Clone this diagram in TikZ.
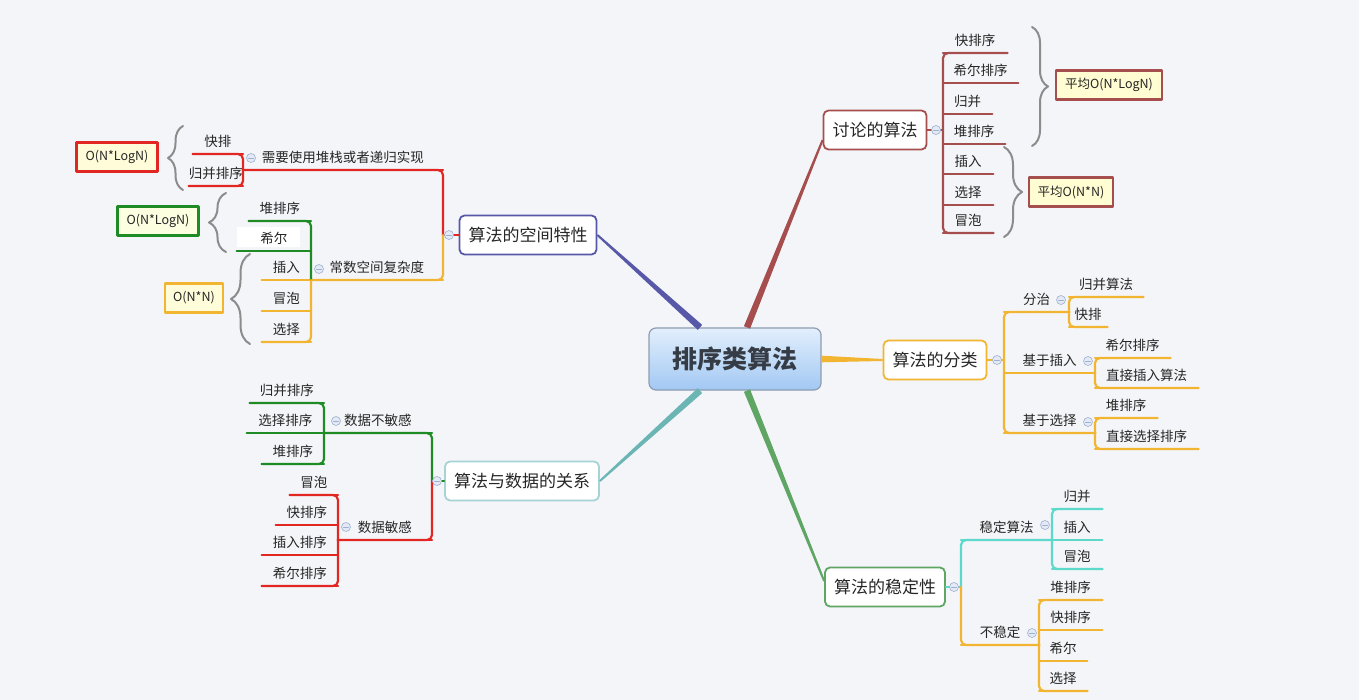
\documentclass[tikz,border=0pt]{standalone}
\usepackage{fontspec}
\setmainfont{Noto Sans CJK SC}
\usetikzlibrary{positioning,calc,decorations.pathreplacing}
\definecolor{nen}{HTML}{F4F5F9}
\definecolor{chu}{HTML}{262626}
\definecolor{chugoc}{HTML}{363C46}
\definecolor{cred}{HTML}{E22622}
\definecolor{cgreen}{HTML}{1F8B24}
\definecolor{corange}{HTML}{F2B531}
\definecolor{cbrown}{HTML}{A64D4D}
\definecolor{cteal}{HTML}{5DD9CB}
\definecolor{cpurple}{HTML}{5858A8}
\definecolor{cteal2}{HTML}{6BB5B5}
\definecolor{cgreen2}{HTML}{5FA563}
\definecolor{foldv}{HTML}{9DB0D0}
\definecolor{foldn}{HTML}{E4EAF5}
\definecolor{xam}{HTML}{8C8C8C}
\definecolor{goctren}{HTML}{E2EFFC}
\definecolor{gocduoi}{HTML}{A2C8F3}
\definecolor{gocvien}{HTML}{8E9DB2}
\begin{document}
\begin{tikzpicture}[x=1pt, y=-1pt, line join=round, line cap=round,
	leaf/.style={inner xsep=0pt, inner ysep=5pt, text height=9.5pt, text depth=2.5pt, text=chu, font=\fontsize{13.5}{13.5}\selectfont},
	topic/.style={draw, fill=white, rounded corners=5pt, line width=1.8pt, minimum height=39pt, inner xsep=9pt, text=chu, font=\fontsize{17}{17}\selectfont},
	ln/.style={line width=2.2pt},
	fold/.style={circle, draw=foldv, fill=foldn, line width=0.6pt, minimum size=9pt, inner sep=0pt,
		path picture={\draw[foldv, line width=0.8pt] ([xshift=-2.5pt]path picture bounding box.center) -- ([xshift=2.5pt]path picture bounding box.center);}},
	onbox/.style={draw, line width=2.5pt, minimum height=29pt, inner xsep=4pt, text=chu, font=\fontsize{12.5}{12.5}\selectfont},
	ngoac/.style={draw=xam, line width=2pt, decorate, decoration={brace, amplitude=#1}}
	]
	
	% Nen
	\useasboundingbox (0,0) rectangle (1359,700);
	\fill[nen] (0,0) rectangle (1359,700);
	
	% Nut goc va cac chu de
	\node[draw=gocvien, line width=1.2pt, rounded corners=7pt, top color=goctren, bottom color=gocduoi,
		minimum width=172pt, minimum height=62pt, text=chugoc, font=\fontsize{25}{25}\selectfont\bfseries] (root) at (735,359) {排序类算法};
	\node[topic, draw=cpurple] (kongjian) at (528,235) {算法的空间特性};
	\node[topic, draw=cbrown] (taolun) at (875,130) {讨论的算法};
	\node[topic, draw=corange] (fenlei) at (935,360) {算法的分类};
	\node[topic, draw=cteal2!60] (guanxi) at (522,481) {算法与数据的关系};
	\node[topic, draw=cgreen2] (wending) at (885,587) {算法的稳定性};
	
	% Nhanh chinh
	\coordinate (g1) at ([xshift=-35pt]root.north);
	\coordinate (g2) at ([xshift=12pt]root.north);
	\coordinate (g3) at (root.east);
	\coordinate (g4) at ([xshift=-35pt]root.south);
	\coordinate (g5) at ([xshift=12pt]root.south);
	\coordinate (d1) at (kongjian.east);
	\coordinate (d2) at ([yshift=-10pt]taolun.west);
	\coordinate (d3) at (fenlei.west);
	\coordinate (d4) at (guanxi.east);
	\coordinate (d5) at ([yshift=6pt]wending.west);
	\foreach \a/\b/\c in {g1/d1/cpurple, g2/d2/cbrown, g3/d3/corange, g4/d4/cteal2, g5/d5/cgreen2}{
		\fill[\c] ($(\a)!3.3pt!90:(\b)$) -- ($(\b)!1pt!-90:(\a)$) -- ($(\b)!1pt!90:(\a)$) -- ($(\a)!3.3pt!-90:(\b)$) -- cycle;
	}
	
	% Nen trang sau chu
	\fill[white] (237,227) rectangle (300,247);
	
	% La ben trai
	\foreach \n/\t/\xa/\xb/\y/\c in {
		xuyao/需要使用堆栈或者递归实现/243/443/170/cred, kp1/快排/193/243/154/cred, gb1/归并排序/195/243/186/cred,
		changshu/常数空间复杂度/311/443/280/corange, dui1/堆排序/249/311/221/cgreen, xe1/希尔/237/311/251/cgreen,
		cr1/插入/262/311/280/corange, mp1/冒泡/262/311/311/corange, xz1/选择/262/311/342/corange,
		bumingan/数据不敏感/324/432/433/cgreen, mingan/数据敏感/338/432/540/cred,
		gb2/归并排序/250/324/403/cgreen, xz2/选择排序/247/324/433/cgreen, dpx2/堆排序/262/324/464/cgreen,
		mp2/冒泡/290/338/495/cred, kpx2/快排序/276/338/525/cred, cr2/插入排序/262/338/555/cred, xe2/希尔排序/262/338/586/cred}{
		\node[leaf, minimum width={\xb-\xa}, anchor=south east] (\n) at (\xb,\y) {\t};
		\draw[ln, \c] (\n.south west) -- (\n.south east);
	}
	
	% La ben phai
	\foreach \n/\t/\xa/\xb/\y/\c in {
		kpx3/快排序/943/1007/53/cbrown, xe3/希尔排序/943/1018/83/cbrown, gb3/归并/943/992/114/cbrown, dpx3/堆排序/943/1005/144/cbrown,
		cr3/插入/943/993/174/cbrown, xz3/选择/943/993/205/cbrown, mp3/冒泡/943/993/233/cbrown,
		fenzhi/分治/1004/1069/312/corange, jcharu/基于插入/1004/1095/373/corange, jxuanze/基于选择/1004/1095/433/corange,
		gbsf/归并算法/1069/1143/297/corange, kp4/快排/1069/1107/327/corange,
		xe4/希尔排序/1095/1170/358/corange, zjcr/直接插入算法/1095/1198/388/corange,
		dpx4/堆排序/1095/1157/418/corange, zjxz/直接选择排序/1095/1198/449/corange,
		wdsf/稳定算法/961/1052/540/cteal, buwd/不稳定/961/1039/645/corange,
		gb5/归并/1052/1102/509/cteal, cr5/插入/1052/1102/540/cteal, mp5/冒泡/1052/1102/569/cteal,
		dpx5/堆排序/1039/1102/600/corange, kpx5/快排序/1039/1102/630/corange, xe5/希尔/1039/1087/661/corange, xz5/选择/1039/1087/691/corange}{
		\node[leaf, minimum width={\xb-\xa}, anchor=south west] (\n) at (\xa,\y) {\t};
		\draw[ln, \c] (\n.south west) -- (\n.south east);
	}
	
	% Truc doc
	\begin{scope}[ln, rounded corners=5pt]
		\draw[cred] (kongjian.west) -- (kongjian.west -| xuyao.south east);
		\draw[cred] (xuyao.south west) -- (xuyao.south east) -- (kongjian.west -| xuyao.south east);
		\draw[corange] (kongjian.west -| changshu.south east) -- (changshu.south east) -- (changshu.south west);
		\draw[cred] (kp1.south west) -- (kp1.south east) -- (gb1.south east) -- (gb1.south west);
		\draw[cgreen] (dui1.south west) -- (dui1.south east) -- (cr1.south east);
		\draw[corange] (cr1.south east) -- (xz1.south east) -- (xz1.south west);
		
		\draw[cgreen] (guanxi.west) -- (guanxi.west -| bumingan.south east);
		\draw[cgreen] (bumingan.south west) -- (bumingan.south east) -- (guanxi.west -| bumingan.south east);
		\draw[cred] (guanxi.west -| mingan.south east) -- (mingan.south east) -- (mingan.south west);
		\draw[cgreen] (gb2.south west) -- (gb2.south east) -- (dpx2.south east) -- (dpx2.south west);
		\draw[cred] (mp2.south west) -- (mp2.south east) -- (xe2.south east) -- (xe2.south west);
		
		\draw[cbrown] (taolun.east) -- (taolun.east -| kpx3.south west);
		\draw[cbrown] (kpx3.south east) -- (kpx3.south west) -- (mp3.south west) -- (mp3.south east);
		
		\draw[corange] (fenlei.east) -- (fenlei.east -| fenzhi.south west);
		\draw[corange] (fenzhi.south east) -- (fenzhi.south west) -- (jxuanze.south west) -- (jxuanze.south east);
		\draw[corange] (gbsf.south east) -- (gbsf.south west) -- (kp4.south west) -- (kp4.south east);
		\draw[corange] (xe4.south east) -- (xe4.south west) -- (zjcr.south west) -- (zjcr.south east);
		\draw[corange] (dpx4.south east) -- (dpx4.south west) -- (zjxz.south west) -- (zjxz.south east);
		
		\draw[cteal] (wending.east) -- (wending.east -| wdsf.south west);
		\draw[cteal] (wdsf.south east) -- (wdsf.south west) -- (wending.east -| wdsf.south west);
		\draw[corange] (wending.east -| buwd.south west) -- (buwd.south west) -- (buwd.south east);
		\draw[cteal] (gb5.south east) -- (gb5.south west) -- (mp5.south west) -- (mp5.south east);
		\draw[corange] (dpx5.south east) -- (dpx5.south west) -- (xz5.south west) -- (xz5.south east);
	\end{scope}
	
	% Nut thu gon
	\foreach \n/\x/\y in {fo1/449/235, fo2/251/158, fo3/319/269, fo4/437/481, fo5/336/421, fo6/346/527,
		fo7/936/130, fo8/997/360, fo9/1061/300, fo10/1088/361, fo11/1088/422, fo12/954/587, fo13/1045/525, fo14/1032/633}{
		\node[fold] (\n) at (\x,\y) {};
	}
	
	% Ngoac va do phuc tap
	\draw[ngoac=15pt] (183,190) -- (183,126);
	\draw[ngoac=17pt] (226,252) -- (226,193);
	\draw[ngoac=19pt] (250,344) -- (250,254);
	\draw[ngoac=16pt] (1032,27) -- (1032,146);
	\draw[ngoac=18pt] (1004,147) -- (1004,237);
	
	\node[onbox, draw=cred, fill=yellow!15, minimum width=81pt] (on1) at (117,157) {O(N*LogN)};
	\node[onbox, draw=cgreen, fill=green!10!yellow!12, minimum width=81pt] (on2) at (158,221) {O(N*LogN)};
	\node[onbox, draw=corange, fill=yellow!15, minimum width=58pt] (on3) at (194,298) {O(N*N)};
	\node[onbox, draw=cbrown, fill=yellow!18, minimum width=106pt] (on4) at (1109,85) {平均O(N*LogN)};
	\node[onbox, draw=cbrown, fill=yellow!18, minimum width=84pt] (on5) at (1071,192) {平均O(N*N)};
	
\end{tikzpicture}
\end{document}
